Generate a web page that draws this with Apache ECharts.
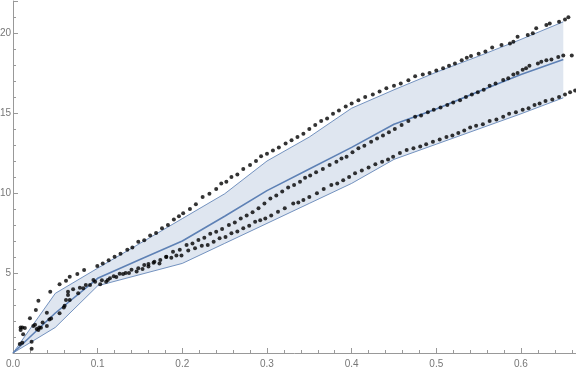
<!DOCTYPE html>
<html><head><meta charset="utf-8">
<script src="https://cdn.jsdelivr.net/npm/echarts@6/dist/echarts.min.js"></script>
<style>html,body{margin:0;padding:0;background:#fff}#c{width:576px;height:371px}</style>
</head><body><div id="c"></div>
<script>
// Band (quantile envelope) nodes
const bandX      = [0, 0.05, 0.1, 0.15, 0.2, 0.25, 0.3, 0.35, 0.4, 0.45, 0.5, 0.55, 0.6, 0.65];
const bandUpper  = [0, 3.73, 5.3, 6.85, 8.4, 9.95, 12.0, 13.5, 15.3, 16.45, 17.55, 18.55, 19.6, 20.7];
const bandMedian = [0, 2.5, 4.67, 5.85, 7.0, 8.55, 10.15, 11.5, 12.85, 14.3, 15.25, 16.35, 17.4, 18.35];
const bandLower  = [0, 1.6, 4.2, 4.9, 5.6, 6.85, 8.1, 9.35, 10.6, 12.1, 13.05, 14.0, 14.95, 15.95];

// Scatter series (x, y)
const upperPts = [
 [0.009,1.6],[0.014,1.56],[0.02,2.17],[0.027,2.69],[0.03,3.27],[0.044,3.83],[0.055,4.29],[0.0626,4.52],
 [0.067,4.77],[0.076,4.94],[0.084,5.19],[0.0996,5.44],
 [0.106,5.6],[0.113,5.8],[0.12,6.02],[0.127,6.2],[0.135,6.45],[0.141,6.6],[0.148,6.96],[0.155,7.05],
 [0.162,7.35],[0.169,7.5],[0.176,7.8],[0.183,8.0],[0.19,8.35],[0.196,8.55],[0.201,8.73],[0.209,9.0],
 [0.216,9.3],[0.224,9.75],[0.232,9.95],[0.24,10.25],[0.246,10.6],[0.252,10.7],[0.258,11.0],[0.265,11.15],
 [0.272,11.5],[0.28,11.75],[0.287,12.0],[0.293,12.3],[0.3,12.45],[0.307,12.65],[0.314,12.85],[0.322,13.1],
 [0.329,13.3],[0.336,13.5],[0.343,13.7],[0.35,14.0],[0.357,14.25],[0.364,14.5],[0.371,14.65],[0.378,14.95],
 [0.385,15.15],[0.393,15.4],[0.4,15.6],[0.408,15.8],[0.416,16.0],[0.425,16.15],[0.433,16.35],[0.441,16.55],
 [0.45,16.7],[0.458,16.85],[0.467,17.05],[0.475,17.3],[0.484,17.4],[0.492,17.5],[0.5,17.65],[0.508,17.8],
 [0.515,17.95],[0.522,18.1],[0.53,18.3],[0.536,18.45],[0.541,18.56],[0.55,18.7],[0.558,18.85],[0.566,19.1],
 [0.577,19.25],[0.587,19.35],[0.591,19.46],[0.596,19.77],[0.608,19.88],[0.614,19.98],[0.618,20.3],[0.63,20.5],
 [0.634,20.6],[0.645,20.7],[0.652,20.85],[0.656,20.98]
];
const middlePts = [
 [0.008,0.56],[0.011,1.6],[0.012,1.17],[0.024,1.69],[0.026,1.77],[0.031,1.6],[0.035,1.9],[0.04,2.52],
 [0.045,2.15],[0.055,2.48],[0.061,2.95],[0.0626,3.31],[0.065,3.83],[0.071,3.98],[0.077,3.73],[0.083,4.04],
 [0.091,4.25],[0.097,4.46],
 [0.105,4.55],[0.112,4.56],[0.119,4.8],[0.126,4.95],[0.133,5.0],[0.14,5.2],[0.148,5.29],[0.155,5.5],
 [0.16,5.56],[0.167,5.7],[0.174,5.81],[0.181,6.0],[0.189,6.33],[0.197,6.45],[0.205,6.75],[0.212,6.85],
 [0.219,7.06],[0.226,7.2],[0.233,7.45],[0.24,7.58],[0.247,7.75],[0.255,8.0],[0.262,8.15],[0.269,8.4],
 [0.276,8.6],[0.283,8.8],[0.29,9.04],[0.297,9.35],[0.304,9.65],[0.311,9.85],[0.318,10.1],[0.325,10.35],
 [0.332,10.5],[0.339,10.7],[0.345,10.95],[0.351,11.1],[0.358,11.3],[0.366,11.5],[0.374,11.75],[0.382,11.96],
 [0.388,12.15],[0.394,12.27],[0.401,12.55],[0.408,12.8],[0.415,12.95],[0.423,13.2],[0.43,13.4],[0.437,13.6],
 [0.444,13.8],[0.451,14.0],[0.459,14.25],[0.467,14.5],[0.475,14.77],[0.482,14.85],[0.49,15.05],[0.497,15.2],
 [0.505,15.35],[0.513,15.5],[0.52,15.65],[0.528,15.8],[0.535,16.0],[0.542,16.15],[0.549,16.3],[0.556,16.45],
 [0.563,16.7],[0.57,16.85],[0.579,17.06],[0.585,17.17],[0.591,17.4],[0.596,17.5],[0.602,17.7],[0.606,17.8],
 [0.61,17.96],[0.62,18.1],[0.624,18.2],[0.63,18.3],[0.636,18.35],[0.644,18.5],[0.65,18.6],[0.66,18.6]
];
const lowerPts = [
 [0.011,0.64],[0.009,1.44],[0.022,0.27],[0.022,0.7],[0.028,1.5],[0.03,1.44],[0.033,1.58],[0.04,1.69],
 [0.043,2.1],[0.06,2.85],[0.065,3.63],[0.067,3.31],[0.079,4.08],[0.086,4.25],[0.095,4.56],
 [0.103,4.3],[0.11,4.45],[0.1145,4.67],[0.122,4.75],[0.13,4.94],[0.137,5.0],[0.146,5.1],[0.153,5.25],
 [0.16,5.4],[0.166,5.64],[0.173,5.6],[0.181,6.02],[0.187,5.95],[0.193,6.1],[0.199,6.1],[0.207,6.4],
 [0.215,6.54],[0.223,6.7],[0.23,6.75],[0.237,6.95],[0.244,7.17],[0.251,7.25],[0.258,7.48],[0.265,7.6],
 [0.272,7.8],[0.279,7.95],[0.286,8.2],[0.292,8.3],[0.298,8.4],[0.305,8.6],[0.313,8.83],[0.321,9.05],
 [0.331,9.35],[0.337,9.4],[0.343,9.56],[0.35,9.75],[0.359,9.98],[0.367,10.25],[0.376,10.5],[0.383,10.6],
 [0.39,10.8],[0.397,11.0],[0.404,11.23],[0.412,11.4],[0.42,11.6],[0.428,11.8],[0.436,11.95],[0.443,12.1],
 [0.449,12.27],[0.457,12.5],[0.465,12.69],[0.473,12.8],[0.481,12.9],[0.488,13.05],[0.496,13.2],[0.504,13.35],
 [0.512,13.5],[0.519,13.6],[0.526,13.75],[0.533,13.9],[0.54,14.1],[0.547,14.2],[0.555,14.3],[0.563,14.5],
 [0.571,14.6],[0.579,14.77],[0.586,14.95],[0.594,15.05],[0.602,15.2],[0.609,15.3],[0.616,15.5],[0.622,15.6],
 [0.629,15.75],[0.637,15.85],[0.645,16.0],[0.652,16.15],[0.658,16.3],[0.664,16.4]
];

const BLUE = '#5e81b5';
const AX = '#999999';
const chart = echarts.init(document.getElementById('c'), null, {renderer: 'canvas'});

const zip = (xs, ys) => xs.map((x, i) => [x, ys[i]]);

function axisBase() {
  return {
    type: 'value',
    axisLine: {show: true, onZero: false, lineStyle: {color: AX, width: 1}},
    axisTick: {show: true, inside: true, length: 5, lineStyle: {color: AX}},
    minorTick: {show: true, splitNumber: 5, length: 3, lineStyle: {color: AX}},
    splitLine: {show: false},
    minorSplitLine: {show: false}
  };
}

const option = {
  animation: false,
  backgroundColor: '#ffffff',
  grid: {left: 13, right: 0, top: 1, bottom: 18, containLabel: false, outerBoundsMode: 'none'},
  xAxis: Object.assign(axisBase(), {
    min: 0, max: 0.665, interval: 0.1,
    axisLabel: {color: '#777', fontSize: 10, margin: 6, showMaxLabel: false,
      fontFamily: 'Liberation Sans, Arial, sans-serif',
      formatter: v => (Math.abs(v * 10 - Math.round(v * 10)) < 1e-6 ? v.toFixed(1) : '')}
  }),
  yAxis: Object.assign(axisBase(), {
    min: 0, max: 22, interval: 5,
    axisLabel: {color: '#777', fontSize: 10, margin: 2, showMaxLabel: false,
      fontFamily: 'Liberation Sans, Arial, sans-serif',
      formatter: v => (v === 0 || v % 5 !== 0 ? '' : String(v))}
  }),
  series: [
    {
      type: 'custom',
      silent: true,
      data: [0],
      z: 1,
      renderItem: function (params, api) {
        const pts = [];
        for (let i = 0; i < bandX.length; i++) pts.push(api.coord([bandX[i], bandUpper[i]]));
        for (let i = bandX.length - 1; i >= 0; i--) pts.push(api.coord([bandX[i], bandLower[i]]));
        return {type: 'polygon', shape: {points: pts}, style: {fill: '#dfe6f0', stroke: null}};
      }
    },
    {type: 'line', data: zip(bandX, bandUpper), showSymbol: false, z: 2,
     lineStyle: {color: BLUE, width: 1, opacity: 0.85}},
    {type: 'line', data: zip(bandX, bandLower), showSymbol: false, z: 2,
     lineStyle: {color: BLUE, width: 1, opacity: 0.85}},
    {type: 'line', data: zip(bandX, bandMedian), showSymbol: false, z: 3,
     lineStyle: {color: BLUE, width: 1.6}},
    {type: 'scatter', data: upperPts, symbol: 'circle', symbolSize: 4, z: 5,
     itemStyle: {color: '#000'}},
    {type: 'scatter', data: middlePts, symbol: 'circle', symbolSize: 4, z: 5,
     itemStyle: {color: '#000'}},
    {type: 'scatter', data: lowerPts, symbol: 'circle', symbolSize: 4, z: 5,
     itemStyle: {color: '#000'}}
  ]
};
chart.setOption(option);
</script>
</body></html>
